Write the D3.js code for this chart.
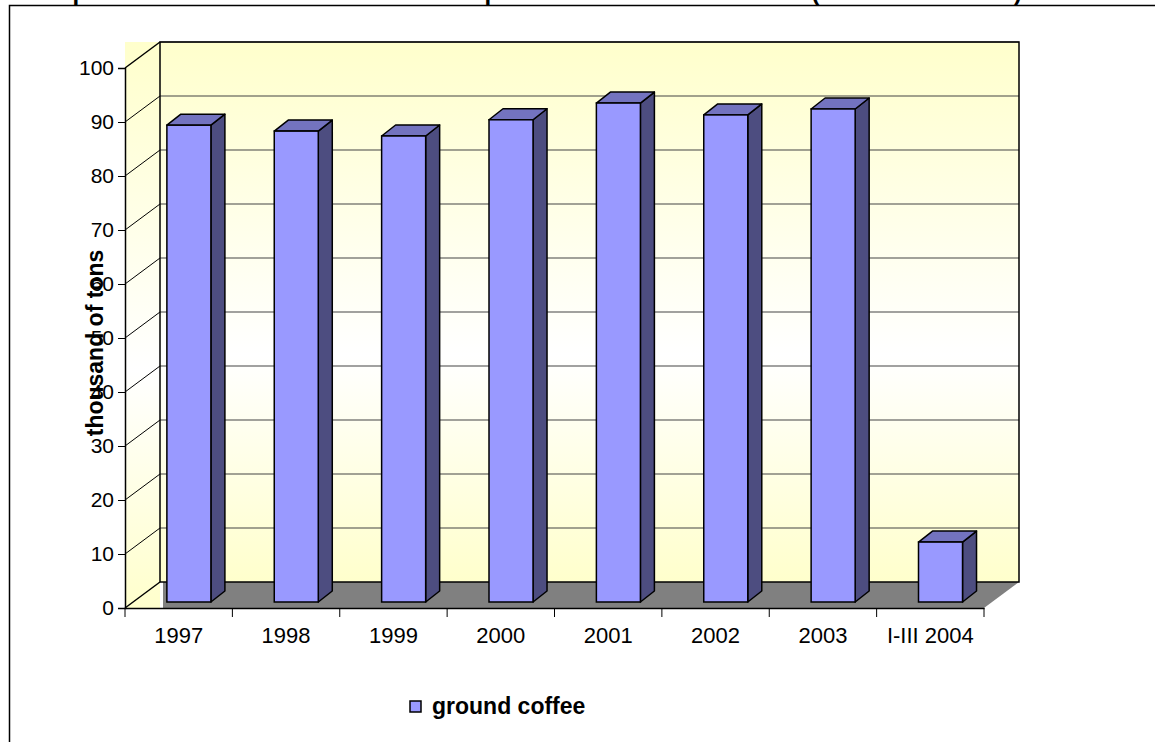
<!DOCTYPE html>
<html>
<head>
<meta charset="utf-8">
<script src="https://cdn.jsdelivr.net/npm/d3@7"></script>
<style>
  body { margin: 0; background: #fff; }
  svg { display: block; font-family: "Liberation Sans", Arial, sans-serif; }
</style>
</head>
<body>
<svg id="drawing_region"></svg>
<script>
// data
const categories = ['1997', '1998', '1999', '2000', '2001', '2002', '2003', 'I-III 2004'];
const values = [88.3, 87.2, 86.3, 89.3, 92.4, 90.2, 91.3, 11.1];
const seriesName = 'ground coffee';
const yLabel = 'thousand of tons';
const titleText = 'Imports of roasted coffee in the whole period 1997-2003 & I-III 2004 (thousand of tons)';

const config = {
    width: 1155,
    height: 742,
    left: 125, right: 984, top: 68, bottom: 608,
    depth: {dx: 35, dy: -26},
    barShift: {dx: 0, dy: -6},
    barDepth: {dx: 14, dy: -11}
};

const svg = d3.select('#drawing_region')
    .attr('width', config.width)
    .attr('height', config.height);

const defs = svg.append('defs');
const grad = defs.append('linearGradient')
    .attr('id', 'wall')
    .attr('x1', 0).attr('y1', 0).attr('x2', 0).attr('y2', 1);
grad.append('stop').attr('offset', '0%').attr('stop-color', '#ffffcc');
grad.append('stop').attr('offset', '58%').attr('stop-color', '#ffffff');
grad.append('stop').attr('offset', '100%').attr('stop-color', '#ffffcc');

// outer chart border (runs off the right and bottom)
svg.append('rect')
    .attr('x', 9.5).attr('y', 5.5)
    .attr('width', 1200).attr('height', 800)
    .attr('fill', 'none').attr('stroke', '#000').attr('stroke-width', 1.5);

// title, mostly cut off at the top like in the picture
svg.append('text')
    .attr('x', 1022).attr('y', -0.5)
    .attr('text-anchor', 'end')
    .attr('font-size', '24px').attr('font-weight', 700)
    .text(titleText);

const x = d3.scaleBand()
    .domain(categories)
    .range([config.left, config.right]);

const y = d3.scaleLinear()
    .domain([0, 100])
    .range([config.bottom, config.top]);

const D = config.depth;
const backLeft = config.left + D.dx;
const backRight = config.right + D.dx;
const backTop = config.top + D.dy;
const backBottom = config.bottom + D.dy;

const chart = svg.append('g');

// side wall background + back wall
chart.append('rect')
    .attr('x', config.left).attr('y', backTop)
    .attr('width', D.dx).attr('height', config.bottom - backTop)
    .attr('fill', 'url(#wall)');
chart.append('rect')
    .attr('x', backLeft).attr('y', backTop)
    .attr('width', backRight - backLeft).attr('height', backBottom - backTop)
    .attr('fill', 'url(#wall)');

// floor
chart.append('polygon')
    .attr('points', [[backLeft + 3, backBottom], [backRight, backBottom],
                     [config.right, config.bottom], [backLeft + 3, config.bottom]].join(' '))
    .attr('fill', '#808080');

// gridlines on back wall and side wall
const ticks = y.ticks(10);
chart.selectAll('.grid')
    .data(ticks.filter(t => t > 0))
    .enter()
    .append('line')
    .attr('x1', backLeft).attr('x2', backRight)
    .attr('y1', d => y(d) + D.dy).attr('y2', d => y(d) + D.dy)
    .attr('stroke', '#444').attr('stroke-width', 1.2);
chart.selectAll('.side')
    .data(ticks)
    .enter()
    .append('line')
    .attr('x1', config.left).attr('y1', d => y(d))
    .attr('x2', backLeft).attr('y2', d => y(d) + D.dy)
    .attr('stroke', '#000').attr('stroke-width', d => (d === 0 || d === 100) ? 1.5 : 1);

// wall outlines
chart.append('path')
    .attr('d', `M${backLeft},${backBottom}V${backTop}H${backRight}V${backBottom}H${backLeft}`)
    .attr('fill', 'none').attr('stroke', '#000').attr('stroke-width', 1.5);

// bars
const B = config.barShift, BD = config.barDepth;
const bw = x.bandwidth() * 0.41;
const bx = d => x(d.c) + x.bandwidth() * 0.39 + B.dx;
const by0 = config.bottom + B.dy;
const byTop = d => y(d.v) + B.dy;
const barData = categories.map((c, i) => ({c: c, v: values[i]}));

const bars = chart.selectAll('.bar')
    .data(barData)
    .enter()
    .append('g');

bars.append('polygon')
    .attr('points', d => [[bx(d) + bw, byTop(d)], [bx(d) + bw + BD.dx, byTop(d) + BD.dy],
                          [bx(d) + bw + BD.dx, by0 + BD.dy], [bx(d) + bw, by0]].join(' '))
    .attr('fill', '#4d4d80').attr('stroke', '#000').attr('stroke-width', 1.5)
    .attr('stroke-linejoin', 'round');
bars.append('polygon')
    .attr('points', d => [[bx(d), byTop(d)], [bx(d) + BD.dx, byTop(d) + BD.dy],
                          [bx(d) + bw + BD.dx, byTop(d) + BD.dy], [bx(d) + bw, byTop(d)]].join(' '))
    .attr('fill', '#7373bf').attr('stroke', '#000').attr('stroke-width', 1.5)
    .attr('stroke-linejoin', 'round');
bars.append('rect')
    .attr('x', bx).attr('y', byTop)
    .attr('width', bw).attr('height', d => by0 - byTop(d))
    .attr('fill', '#9999ff').attr('stroke', '#000').attr('stroke-width', 1.5);

// y axis
const yAxis = chart.append('g')
    .attr('transform', `translate(${config.left},0)`)
    .call(d3.axisLeft(y).tickValues(ticks).tickSize(7).tickPadding(4));
yAxis.select('.domain').attr('stroke-width', 1.5);
yAxis.selectAll('text')
    .attr('font-size', '21px').attr('font-family', '"Liberation Sans", Arial, sans-serif')
    .attr('fill', '#000');

// x axis
const xAxis = chart.append('g')
    .attr('transform', `translate(0,${config.bottom})`)
    .call(d3.axisBottom(x).tickSize(0).tickPadding(19));
xAxis.select('.domain').attr('stroke-width', 1.5);
xAxis.selectAll('text')
    .attr('font-size', '22px').attr('font-family', '"Liberation Sans", Arial, sans-serif')
    .attr('fill', '#000');
xAxis.selectAll('.sep')
    .data(categories.concat(['end']))
    .enter()
    .append('line')
    .attr('x1', (d, i) => config.left + i * x.step())
    .attr('x2', (d, i) => config.left + i * x.step())
    .attr('y1', 0).attr('y2', 9)
    .attr('stroke', '#000').attr('stroke-width', 1);

// y axis title
svg.append('text')
    .attr('transform', `translate(103,343) rotate(-90)`)
    .attr('text-anchor', 'middle')
    .attr('font-size', '23px').attr('font-weight', 700)
    .text(yLabel);

// legend
const legend = svg.append('g').attr('transform', 'translate(410,701)');
legend.append('rect')
    .attr('width', 11).attr('height', 11)
    .attr('fill', '#9999ff').attr('stroke', '#000').attr('stroke-width', 1.5);
legend.append('text')
    .attr('x', 22).attr('y', 13)
    .attr('font-size', '23px').attr('font-weight', 700)
    .text(seriesName);
</script>
</body>
</html>
